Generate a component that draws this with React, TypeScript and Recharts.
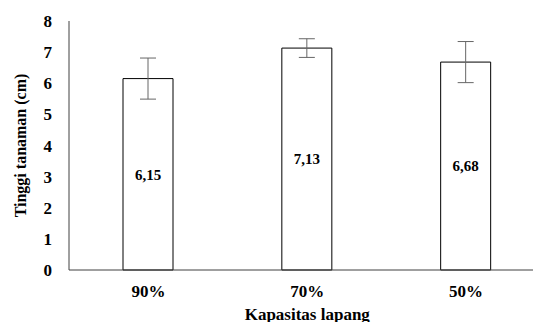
import { Bar, BarChart, ErrorBar, Label, LabelList, XAxis, YAxis } from "recharts";

// Tinggi tanaman per kapasitas lapang
const categories = ["90%", "70%", "50%"];
const heights = [6.15, 7.13, 6.68];
const errors = [0.66, 0.3, 0.66];
const yTicks = [0, 1, 2, 3, 4, 5, 6, 7, 8];

const data = categories.map((c, i) => ({ name: c, value: heights[i], err: errors[i] }));

const FONT = "Liberation Serif";
const TICK = { fontSize: 17, fontWeight: 700, fill: "#000", fontFamily: FONT };

export default function App() {
  return (
    <div
      style={{
        position: "absolute",
        left: 8,
        top: 8,
        width: 525,
        height: 314,
        overflow: "hidden",
        background: "#fff",
        fontFamily: FONT,
      }}
    >
      <BarChart
        width={540}
        height={314}
        data={data}
        margin={{ top: 13, right: 2.5, bottom: 0, left: 0 }}
        barSize={50}
        style={{ fontFamily: FONT }}
      >
        <XAxis
          dataKey="name"
          height={52}
          tickLine={false}
          tickSize={0}
          tickMargin={15}
          tick={TICK}
          axisLine={{ stroke: "#404040", strokeWidth: 1 }}
        >
          <Label
            value="Kapasitas lapang"
            position="insideBottom"
            offset={2}
            style={{ fontSize: 17, fontWeight: 700, fill: "#000", fontFamily: FONT }}
          />
        </XAxis>
        <YAxis
          width={61}
          domain={[0, 8]}
          ticks={yTicks}
          interval={0}
          tickLine={false}
          tickSize={0}
          tickMargin={17}
          tick={TICK}
          axisLine={{ stroke: "#404040", strokeWidth: 1 }}
        >
          <Label
            value="Tinggi tanaman (cm)"
            angle={-90}
            position="insideLeft"
            offset={12}
            style={{
              textAnchor: "middle",
              fontSize: 16,
              fontWeight: 700,
              fill: "#000",
              fontFamily: FONT,
            }}
          />
        </YAxis>
        <Bar
          dataKey="value"
          fill="#fff"
          stroke="#000"
          strokeWidth={1}
          isAnimationActive={false}
        >
          <ErrorBar dataKey="err" width={8} stroke="#666" strokeWidth={1} />
          <LabelList
            dataKey="value"
            position="center"
            formatter={(v: number) => String(v).replace(".", ",")}
            style={{ fontSize: 15, fontWeight: 700, fill: "#000", fontFamily: FONT }}
          />
        </Bar>
      </BarChart>
    </div>
  );
}
